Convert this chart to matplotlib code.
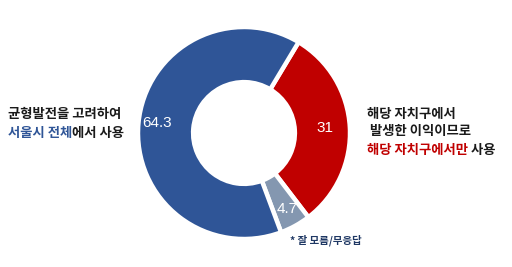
import matplotlib
matplotlib.use('Agg')
import matplotlib.pyplot as plt

plt.rcParams['font.family'] = ['Noto Sans CJK KR', 'DejaVu Sans']

# data
labels = ['해당 자치구에서만 사용', '잘 모름/무응답', '서울시 전체에서 사용']
values = [31, 4.7, 64.3]
colors = ['#C00000', '#8497B0', '#2F5597']
value_text = ['31', '4.7', '64.3']

W, H = 512, 267
fig = plt.figure(figsize=(W / 100, H / 100), dpi=100)
ax = fig.add_axes([0, 0, 1, 1])

cx, cy, R = 244, H - 133, 106
wedges, _ = ax.pie(values, colors=colors, startangle=59, counterclock=False,
                   center=(cx, cy), radius=R, frame=True,
                   wedgeprops=dict(width=R * 0.52, edgecolor='white', linewidth=3.2))
ax.set_xlim(0, W)
ax.set_ylim(0, H)
ax.set_aspect('equal')
ax.axis('off')

# value labels inside ring
pos = [(325, 128), (287, 209), (157, 123)]
for (x, y), t in zip(pos, value_text):
    ax.text(x, H - y, t, color='white', fontsize=11, ha='center', va='center',
            family=['Liberation Sans', 'DejaVu Sans'], zorder=5)

fig.canvas.draw()
rend = fig.canvas.get_renderer()


def multi(x, y, parts, size=9.6):
    # draw text pieces one after another in their own colours
    for s, c in parts:
        t = ax.text(x, H - y, s, color=c, fontsize=size, ha='left', va='center',
                    fontweight='bold')
        bb = t.get_window_extent(renderer=rend)
        x = x + bb.width * (W / fig.bbox.width)


dark = '#1a1a1a'
multi(8, 114, [('균형발전을 고려하여', dark)])
multi(8, 133, [('서울시 전체', '#2F5597'), ('에서 사용', dark)])
multi(367, 114, [('해당 자치구에서', dark)])
multi(367, 131, [(' 발생한 이익이므로', dark)])
multi(367, 150, [('해당 자치구에서만', '#C00000'), (' 사용', dark)])
multi(290, 240, [('* 잘 모름/무응답', '#1F3864')], size=7.5)

fig.savefig('out.png', dpi=100)
